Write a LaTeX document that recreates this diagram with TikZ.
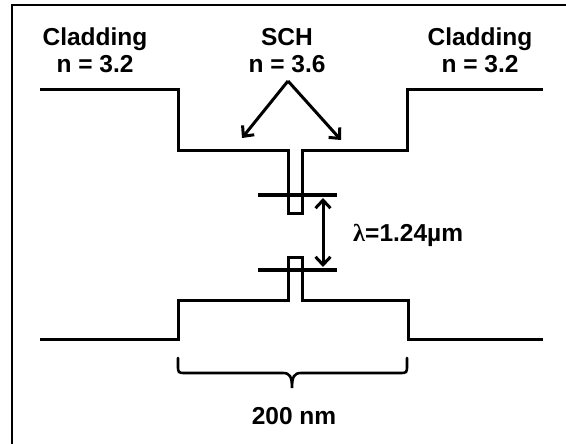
\documentclass[tikz,border=0pt]{standalone}
\usepackage{fontspec}
\setmainfont{Liberation Sans}
\newfontfamily\serifgreek{Liberation Serif}
\usetikzlibrary{arrows.meta}
\tikzset{
  lbl/.style={font=\fontsize{24.5}{27.5}\selectfont\bfseries, align=center, inner sep=0pt, text=black},
  profile/.style={line width=3pt, line join=miter},
  bar/.style={line width=3.8pt},
  tipstyle/.style={},
  pointer/.style={line width=3pt, -{Straight Barb[length=8pt,width=15pt,line width=3pt]}},
  dim/.style={line width=3pt, {Straight Barb[length=8pt,width=15pt,line width=3pt]}-{Straight Barb[length=8pt,width=15pt,line width=3pt]}},
  framel/.style={line width=2pt}
}
\begin{document}
\begin{tikzpicture}[x=1pt,y=-1pt]
\useasboundingbox (0,0) rectangle (566,444);
\fill[white] (0,0) rectangle (566,444);
% frame
\draw[framel] (12,444) -- (12,5) -- (566,5);
% labels
\node[lbl, anchor=south] (cladL) at (95,73) {Cladding\\n = 3.2};
\node[lbl, anchor=south] (sch) at (287,73) {SCH\\n = 3.6};
\node[lbl, anchor=south] (cladR) at (480,73) {Cladding\\n = 3.2};
% upper profile
\draw[profile] (40,90) -- (178,90) -- (178,151) -- (288,151) -- (288,213) -- (302,213) -- (302,151) -- (407,151) -- (407,90) -- (543,90);
% lower profile
\draw[profile] (40,339) -- (178,339) -- (178,300) -- (288,300) -- (288,257) -- (302,257) -- (302,300) -- (408,300) -- (408,339) -- (543,339);
% level bars
\coordinate (b1l) at (258,195); \coordinate (b1r) at (337,195);
\coordinate (b2l) at (258,270); \coordinate (b2r) at (337,270);
\draw[bar] (b1l) -- (b1r);
\draw[bar] (b2l) -- (b2r);
% lambda arrow
\coordinate (d1) at (323,198);
\coordinate (d2) at (323,267);
\draw[dim] (d1) -- (d2);
\node[lbl, anchor=west] (lam) at (353,235) {{\serifgreek λ}=1.24µm};
% SCH arrows
\coordinate (apex) at (288,81);
\coordinate (tipL) at (242,138);
\coordinate (tipR) at (341,140);
\draw[pointer] (apex) -- (tipL);
\draw[pointer] (apex) -- (tipR);
% brace
\draw[line width=2.6pt, line cap=round]
  (178,358) -- (178,365) .. controls (178,373) .. (186,373) -- (283,373)
  .. controls (290,373) and (292,377) .. (292,388)
  .. controls (292,377) and (294,373) .. (301,373) -- (399,373)
  .. controls (407,373) .. (407,365) -- (407,358);
\node[lbl, anchor=base] (width) at (294,424) {200 nm};
\end{tikzpicture}
\end{document}
